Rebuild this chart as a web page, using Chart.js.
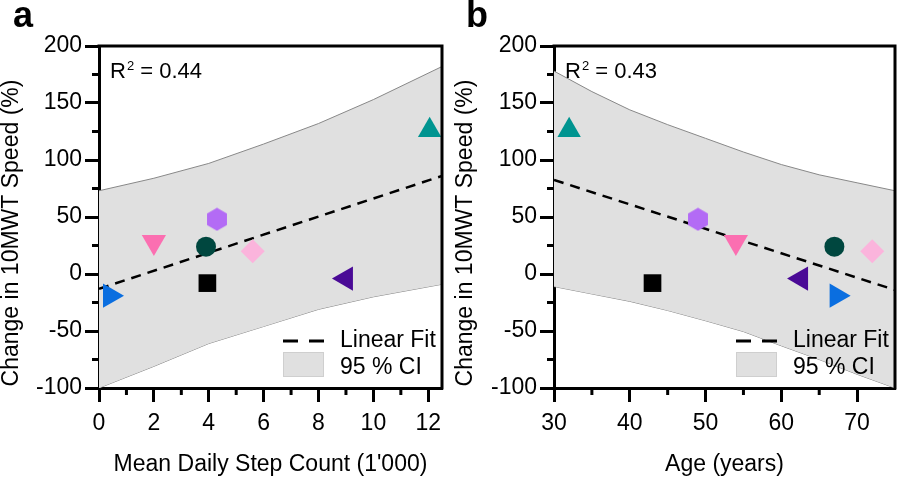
<!DOCTYPE html>
<html lang="en">
<head>
<meta charset="UTF-8">
<title>Change in 10MWT Speed vs Step Count and Age</title>
<script src="https://cdn.jsdelivr.net/npm/chart.js"></script>
<style>
  body { margin: 0; background: #fff; }
  .row { display: flex; width: 897px; height: 478px; }
</style>
</head>
<body>
<div class="row">
  <canvas id="chartA" width="449" height="478"></canvas>
  <canvas id="chartB" width="448" height="478"></canvas>
</div>
<script>
// one entry per participant
const stepCount = [0.4, 2.0, 3.9, 3.95, 4.3, 5.6, 9.0, 12.05];   // 1'000 steps/day
const ageYears = [67.3, 54, 67, 43, 49, 72, 62.6, 32];
const speedChange = [-19, 28, 24, -8, 48, 20, -4, 126];         // %
const pointColors = ['#0a6ee0', '#fb6fb1', '#00473f', '#000000', '#b36bf5', '#fbb4dc', '#4a0a96', '#009490'];
const pointShapes = ['triangle', 'triangle', 'circle', 'rect', 'hexagon', 'rectRot', 'triangle', 'triangle'];
const pointRotations = [90, 180, 0, 0, 0, 0, -90, 0];
const pointRadius = [14, 14, 10, 12.5, 10, 12, 14, 13.5];

// linear fit + 95% CI
const fitStepX = [0, 12.5];
const fitStepY = [-13, 86];
const ciStepX = [0, 2, 4, 6, 8, 10, 12.5];
const ciStepUpper = [73, 84, 97, 114, 132, 153, 182];
const ciStepLower = [-100, -81, -61, -46, -31, -20, -9];

const fitAgeX = [30, 75];
const fitAgeY = [82.5, -14];
const ciAgeX = [30, 35, 40, 45, 50, 55, 60, 65, 70, 75];
const ciAgeUpper = [178, 160, 144, 131, 119, 107, 96, 87, 80, 73];
const ciAgeLower = [-11, -17.5, -24, -32, -41, -50.5, -63, -75, -88, -100];

const FONT = '"Liberation Sans", Arial, sans-serif';
const FS = 23;
Chart.defaults.font.family = FONT;
Chart.defaults.color = '#000';

function hexagonImage(color) {
  const c = document.createElement('canvas');
  c.width = 22; c.height = 24;
  const g = c.getContext('2d');
  g.fillStyle = color;
  g.beginPath();
  for (let i = 0; i < 6; i++) {
    const a = Math.PI / 3 * i - Math.PI / 2;
    const px = 11 + 11.5 * Math.cos(a), py = 12 + 11.5 * Math.sin(a);
    i ? g.lineTo(px, py) : g.moveTo(px, py);
  }
  g.closePath();
  g.fill();
  return c;
}

const styles = pointShapes.map((s, i) => s === 'hexagon' ? hexagonImage(pointColors[i]) : s);

function pairs(xs, ys) {
  return xs.map((x, i) => ({ x: x, y: ys[i] }));
}

// minor ticks halfway between the major ones, plus the closed frame
const axisExtras = {
  id: 'axisExtras',
  afterDraw(chart) {
    const { ctx, chartArea: a, scales } = chart;
    ctx.save();
    ctx.strokeStyle = '#000';
    ctx.lineWidth = 3;
    const xt = scales.x.ticks.map(t => t.value);
    const step = xt[1] - xt[0];
    for (let v = xt[0] + step / 2; v < scales.x.max; v += step) {
      const px = scales.x.getPixelForValue(v);
      ctx.beginPath(); ctx.moveTo(px, a.bottom); ctx.lineTo(px, a.bottom + 7); ctx.stroke();
    }
    const yt = scales.y.ticks.map(t => t.value);
    const ystep = yt[1] - yt[0];
    for (let v = yt[0] + ystep / 2; v < scales.y.max; v += ystep) {
      const py = scales.y.getPixelForValue(v);
      ctx.beginPath(); ctx.moveTo(a.left, py); ctx.lineTo(a.left - 7, py); ctx.stroke();
    }
    ctx.beginPath();
    ctx.moveTo(a.left - 1.5, a.top);
    ctx.lineTo(a.right, a.top);
    ctx.lineTo(a.right, a.bottom + 1.5);
    ctx.stroke();
    ctx.restore();
  }
};

// panel letter, y title, R² and in-plot legend
const annotations = {
  id: 'annotations',
  afterDraw(chart, args, opts) {
    const { ctx, chartArea: a } = chart;
    ctx.save();
    ctx.fillStyle = '#000';
    ctx.textAlign = 'left';
    ctx.textBaseline = 'alphabetic';
    ctx.font = 'bold 36px ' + FONT;
    ctx.fillText(opts.letter, opts.letterX, 27);

    // y axis title
    ctx.save();
    ctx.translate(opts.titleX, 233);
    ctx.rotate(-Math.PI / 2);
    ctx.textAlign = 'center';
    ctx.font = FS + 'px ' + FONT;
    ctx.fillText('Change in 10MWT Speed (%)', 0, 0);
    ctx.restore();

    // R²
    let x = a.left + 11;
    const y = a.top + 32;
    ctx.font = '22px ' + FONT;
    ctx.fillText('R', x, y);
    x += ctx.measureText('R').width + 1;
    ctx.font = '13px ' + FONT;
    ctx.fillText('2', x, y - 8);
    x += ctx.measureText('2').width;
    ctx.font = '22px ' + FONT;
    ctx.fillText(' = ' + opts.r2, x, y);

    // legend
    const lx = a.right - 159;
    ctx.strokeStyle = '#000';
    ctx.lineWidth = 3;
    ctx.setLineDash([15, 11]);
    ctx.beginPath(); ctx.moveTo(lx, a.bottom - 47); ctx.lineTo(lx + 41, a.bottom - 47); ctx.stroke();
    ctx.setLineDash([]);
    ctx.fillStyle = '#e0e0e0';
    ctx.fillRect(lx, a.bottom - 36, 41, 25);
    ctx.strokeStyle = '#cfcfcf';
    ctx.lineWidth = 1;
    ctx.strokeRect(lx + 0.5, a.bottom - 35.5, 40, 24);
    ctx.fillStyle = '#000';
    ctx.textBaseline = 'middle';
    ctx.font = FS + 'px ' + FONT;
    ctx.fillText('Linear Fit', lx + 57, a.bottom - 47);
    ctx.fillText('95 % CI', lx + 57, a.bottom - 20);
    ctx.restore();
  }
};

function makePanel(id, cfg) {
  return new Chart(document.getElementById(id), {
    type: 'scatter',
    data: {
      datasets: [
        {
          label: 'Participants',
          data: pairs(cfg.xs, speedChange),
          pointStyle: styles,
          rotation: pointRotations,
          pointRadius: pointRadius,
          backgroundColor: pointColors,
          borderColor: pointColors,
          borderWidth: 0
        },
        {
          label: 'Linear Fit',
          type: 'line',
          data: pairs(cfg.fitX, cfg.fitY),
          borderColor: '#000',
          borderWidth: 2.5,
          borderDash: [10, 7],
          pointRadius: 0,
          fill: false
        },
        {
          label: 'Upper 95% CI',
          type: 'line',
          data: pairs(cfg.ciX, cfg.ciUp),
          borderColor: '#888',
          borderWidth: 1,
          pointRadius: 0,
          backgroundColor: '#e0e0e0',
          fill: '+1'
        },
        {
          label: 'Lower 95% CI',
          type: 'line',
          data: pairs(cfg.ciX, cfg.ciLow),
          borderColor: '#888',
          borderWidth: 1,
          pointRadius: 0,
          fill: false
        }
      ]
    },
    options: {
      responsive: false,
      animation: false,
      devicePixelRatio: 1,
      layout: { autoPadding: false, padding: { top: 46, right: cfg.padRight, left: 0, bottom: 0 } },
      plugins: {
        legend: { display: false },
        tooltip: { enabled: false },
        annotations: cfg.notes
      },
      scales: {
        x: {
          type: 'linear',
          min: cfg.xMin,
          max: cfg.xMax,
          border: { display: true, width: 3, color: '#000' },
          grid: { drawOnChartArea: false, tickLength: 14, tickWidth: 3, tickColor: '#000' },
          ticks: { stepSize: cfg.xStep, includeBounds: false, maxRotation: 0, padding: 8, font: { size: FS } },
          title: { display: true, text: cfg.xTitle, font: { size: FS }, padding: { top: 0, bottom: 0 } },
          afterFit(scale) {
            scale.height = 90;
            scale.paddingLeft = 0;
            scale.paddingRight = 0;
          }
        },
        y: {
          min: -100,
          max: 200,
          border: { display: true, width: 3, color: '#000' },
          grid: { drawOnChartArea: false, tickLength: 14, tickWidth: 3, tickColor: '#000' },
          ticks: { stepSize: 50, padding: 3, font: { size: FS } },
          afterFit(scale) { scale.width = cfg.yWidth; }
        }
      }
    },
    plugins: [axisExtras, annotations]
  });
}

makePanel('chartA', {
  xs: stepCount, fitX: fitStepX, fitY: fitStepY,
  ciX: ciStepX, ciUp: ciStepUpper, ciLow: ciStepLower,
  xMin: 0, xMax: 12.5, xStep: 2, xTitle: "Mean Daily Step Count (1'000)",
  yWidth: 99, padRight: 7,
  notes: { letter: 'a', letterX: 13, titleX: 18, r2: '0.44' }
});

makePanel('chartB', {
  xs: ageYears, fitX: fitAgeX, fitY: fitAgeY,
  ciX: ciAgeX, ciUp: ciAgeUpper, ciLow: ciAgeLower,
  xMin: 30, xMax: 75, xStep: 10, xTitle: 'Age (years)',
  yWidth: 105, padRight: 2,
  notes: { letter: 'b', letterX: 17, titleX: 23, r2: '0.43' }
});
</script>
</body>
</html>
